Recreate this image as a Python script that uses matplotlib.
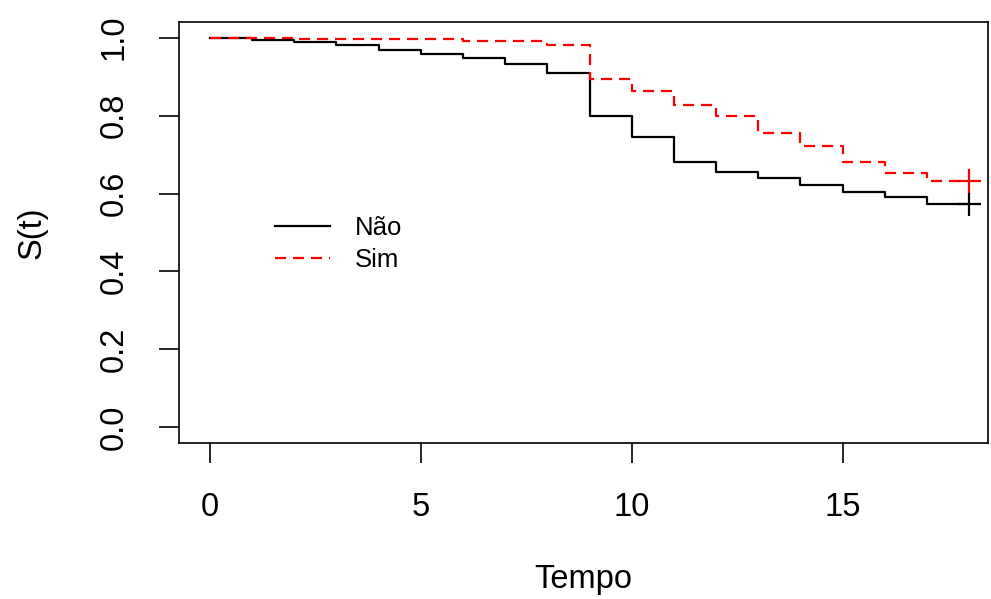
import matplotlib
matplotlib.use("Agg")
import matplotlib.pyplot as plt

plt.rcParams['font.family'] = ['Liberation Sans', 'DejaVu Sans']

# Kaplan-Meier estimates (step at each integer time)
tempo = [0, 1, 2, 3, 4, 5, 6, 7, 8, 9, 10, 11, 12, 13, 14, 15, 16, 17, 18]
s_nao = [1.0, 0.994, 0.988, 0.980, 0.968, 0.958, 0.948, 0.933, 0.910,
         0.800, 0.745, 0.681, 0.655, 0.639, 0.621, 0.603, 0.590, 0.574, 0.574]
s_sim = [1.0, 1.0, 0.997, 0.997, 0.997, 0.997, 0.991, 0.991, 0.982,
         0.894, 0.864, 0.827, 0.800, 0.756, 0.721, 0.681, 0.653, 0.632, 0.632]
# censored at the end of follow-up
cens_t = 18
xticks = [0, 5, 10, 15]
yticks = [0.0, 0.2, 0.4, 0.6, 0.8, 1.0]

fig = plt.figure(figsize=(9.91, 5.99), dpi=100)
ax = fig.add_axes([179/991, 156/599, 809/991, 421/599])

ax.step(tempo, s_nao, where='post', color='black', lw=1.6, label='Não')
ax.step(tempo, s_sim, where='post', color='red', lw=1.6,
        dashes=(5, 3.1), label='Sim')
ax.plot([cens_t], [s_nao[-1]], marker='+', color='black', ms=17, mew=1.6, ls='none')
ax.plot([cens_t], [s_sim[-1]], marker='+', color='red', ms=17, mew=1.6, ls='none')

ax.set_xlim(-0.735, 18.45)
ax.set_ylim(-0.04, 1.04)
ax.set_xticks(xticks)
ax.set_xticklabels([str(x) for x in xticks])
ax.set_yticks(yticks)
ax.set_yticklabels(['%.1f' % y for y in yticks], rotation=90, va='center')
ax.tick_params(labelsize=23.5, length=14.5, width=1.2, pad=21)

for sp in ax.spines.values():
    sp.set_linewidth(1.2)

ax.set_xlabel('Tempo', fontsize=23.5, va='center')
ax.set_ylabel('S(t)', fontsize=23.5, va='center')
ax.xaxis.set_label_coords(0.5, -0.325)
ax.yaxis.set_label_coords(-0.182, 0.5)

ax.legend(loc='upper left', bbox_to_anchor=(0.1187, 0.539), frameon=False,
          fontsize=18.5, handlelength=2.14, handletextpad=0.97,
          labelspacing=0.32, borderpad=0, borderaxespad=0)

fig.savefig('out.png', dpi=100)
